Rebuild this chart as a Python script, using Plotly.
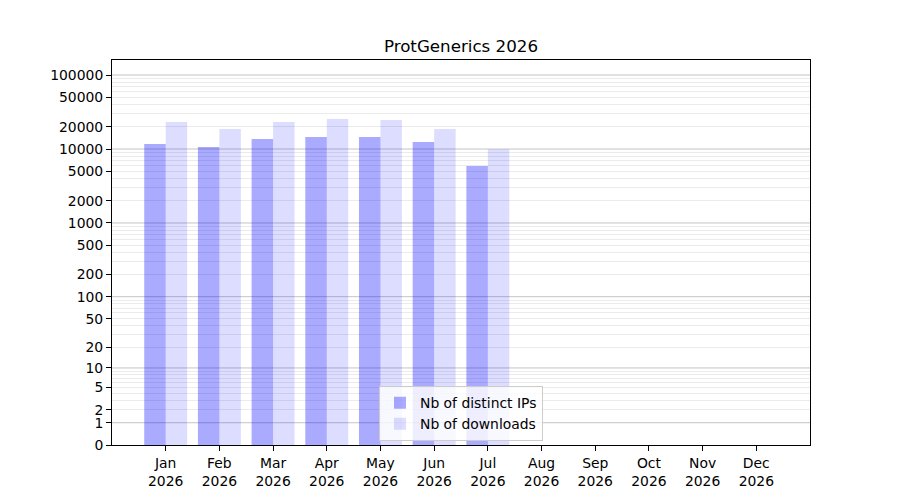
import plotly.graph_objects as go

months = ["Jan", "Feb", "Mar", "Apr", "May", "Jun", "Jul", "Aug", "Sep", "Oct", "Nov", "Dec"]
year = "2026"
distinct_ips = [11700, 10650, 13650, 14550, 14550, 12450, 5900, None, None, None, None, None]
downloads = [23200, 18650, 23200, 25450, 24700, 18650, 9950, None, None, None, None, None]
tick_labels = [0, 1, 2, 5, 10, 20, 50, 100, 200, 500, 1000, 2000, 5000, 10000, 20000, 50000, 100000]
major_grid = [1, 10, 100, 1000, 10000, 100000]

# axis shows log10(value + 1)
def tr(v):
    return None if v is None else v + 1

xlabels = [f"{m}<br>{year}" for m in months]

fig = go.Figure()
fig.add_trace(go.Bar(x=months, y=[tr(v) for v in distinct_ips], name="Nb of distinct IPs",
                     marker=dict(color="rgba(0,0,255,0.333)", line=dict(width=0))))
fig.add_trace(go.Bar(x=months, y=[tr(v) for v in downloads], name="Nb of downloads",
                     marker=dict(color="rgba(0,0,255,0.133)", line=dict(width=0))))

minor_vals = [n * 10 ** k + 1 for k in range(0, 5) for n in range(2, 10)]

for g in major_grid:
    fig.add_shape(type="line", xref="paper", x0=0, x1=1, yref="y", y0=tr(g), y1=tr(g),
                  line=dict(color="rgba(176,176,176,0.75)", width=1), layer="below")

fig.update_layout(
    width=900, height=500,
    margin=dict(l=104, r=98, t=52, b=63),
    paper_bgcolor="white", plot_bgcolor="white",
    font=dict(family="DejaVu Sans", size=13.9, color="black"),
    title=dict(text="ProtGenerics 2026", x=0.5, xanchor="center", xref="paper",
               y=1 - 38 / 500, yanchor="middle", font=dict(size=16.7)),
    barmode="group", bargap=0.2, bargroupgap=0,
    showlegend=True,
    legend=dict(x=0.5, xanchor="center", y=0.01, yanchor="bottom",
                bgcolor="rgba(255,255,255,0.8)", bordercolor="#cccccc", borderwidth=1,
                font=dict(size=13.9), tracegroupgap=0),
    xaxis=dict(type="category", categoryorder="array", categoryarray=months,
               range=[-1, 12], tickmode="array", tickvals=months, ticktext=xlabels,
               ticks="outside", ticklen=5, tickcolor="black", showgrid=False,
               showline=True, linecolor="black", linewidth=1, mirror=True, zeroline=False),
    yaxis=dict(type="log", range=[0, 5.203], tickmode="array",
               tickvals=[tr(v) for v in tick_labels], ticktext=[str(v) for v in tick_labels],
               ticks="outside", ticklen=5, tickcolor="black", showgrid=False,
               minor=dict(tickmode="array", tickvals=minor_vals, showgrid=True,
                          gridcolor="#ebebeb", gridwidth=1, ticks=""),
               showline=True, linecolor="black", linewidth=1, mirror=True, zeroline=False),
)

fig.write_html("out.html")
